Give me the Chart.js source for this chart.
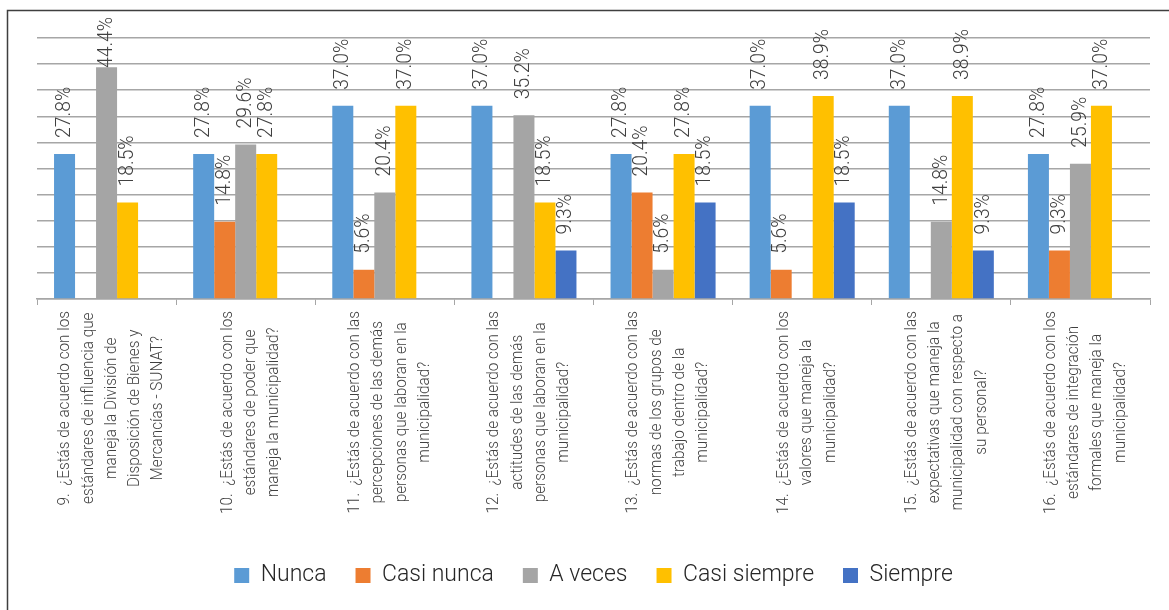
<!DOCTYPE html>
<html>
<head>
<meta charset="utf-8">
<script src="https://cdn.jsdelivr.net/npm/chart.js@4.4.1/dist/chart.umd.min.js"></script>
<style>
  html, body { margin: 0; padding: 0; background: #ffffff; overflow: hidden; }
  #wrap { position: relative; width: 1169px; height: 610px; }
  canvas { display: block; }
</style>
</head>
<body>
<div id="wrap"><canvas id="chart" width="1169" height="610"></canvas></div>
<script>
// Survey questions 9–16, each split into the lines shown under the axis
const categoryLines = [
  ["9.  ¿Estás de acuerdo con los", "estándares de influencia que", "maneja la División de", "Disposición de Bienes y", "Mercancías - SUNAT?"],
  ["10.  ¿Estás de acuerdo con los", "estándares de poder que", "maneja la municipalidad?"],
  ["11.  ¿Estás de acuerdo con las", "percepciones de las demás", "personas que laboran en la", "municipalidad?"],
  ["12.  ¿Estás de acuerdo con las", "actitudes de las demás", "personas que laboran en la", "municipalidad?"],
  ["13.  ¿Estás de acuerdo con las", "normas de los grupos de", "trabajo dentro de la", "municipalidad?"],
  ["14.  ¿Estás de acuerdo con los", "valores que maneja la", "municipalidad?"],
  ["15.  ¿Estás de acuerdo con las", "expectativas que maneja la", "municipalidad con respecto a", "su personal?"],
  ["16.  ¿Estás de acuerdo con los", "estándares de integración", "formales que maneja la", "municipalidad?"]
];

// Percentage of answers per option (null = no answers)
const nunca       = [27.8, 27.8, 37.0, 37.0, 27.8, 37.0, 37.0, 27.8];
const casiNunca   = [null, 14.8, 5.6, null, 20.4, 5.6, null, 9.3];
const aVeces      = [44.4, 29.6, 20.4, 35.2, 5.6, null, 14.8, 25.9];
const casiSiempre = [18.5, 27.8, 37.0, 18.5, 27.8, 38.9, 38.9, 37.0];
const siempre     = [null, null, null, 9.3, 18.5, 18.5, 9.3, null];

const seriesNames = ["Nunca", "Casi nunca", "A veces", "Casi siempre", "Siempre"];
const yTicks = [0, 5, 10, 15, 20, 25, 30, 35, 40, 45, 50];

const FONT = "Roboto, 'Open Sans', 'Liberation Sans', sans-serif";
const GRID = '#a6a6a6';

// Outer frame of the chart
const framePlugin = {
  id: 'frame',
  afterDraw(chart) {
    const ctx = chart.ctx;
    ctx.save();
    ctx.strokeStyle = '#3f3f3f';
    ctx.lineWidth = 1.5;
    ctx.strokeRect(7.5, 10.5, chart.width + 20, chart.height + 20);
    ctx.restore();
  }
};

// Vertical percentage labels above each bar (slightly narrowed glyphs)
const barValueLabels = {
  id: 'barValueLabels',
  afterDatasetsDraw(chart) {
    const ctx = chart.ctx;
    const squeeze = 0.92;
    ctx.save();
    ctx.font = '300 21px ' + FONT;
    ctx.fillStyle = '#404040';
    ctx.textAlign = 'left';
    ctx.textBaseline = 'middle';
    chart.data.datasets.forEach((ds, i) => {
      const meta = chart.getDatasetMeta(i);
      meta.data.forEach((bar, j) => {
        const v = ds.data[j];
        if (v == null) return;
        const text = v.toFixed(1) + '%';
        const w = ctx.measureText(text).width * squeeze;
        const start = Math.max(bar.y - 16, 17 + w);
        ctx.save();
        ctx.translate(bar.x, start);
        ctx.rotate(-Math.PI / 2);
        ctx.scale(squeeze, 1);
        ctx.fillText(text, 0, 0);
        ctx.restore();
      });
    });
    ctx.restore();
  }
};

// Multi-line, centred, rotated category labels under the x axis
const categoryLabels = {
  id: 'categoryLabels',
  afterDraw(chart) {
    const ctx = chart.ctx;
    const xs = chart.scales.x;
    const lineStep = 23.3;
    const squeeze = 0.9;
    ctx.save();
    ctx.font = '300 17px ' + FONT;
    ctx.fillStyle = '#404040';
    ctx.textAlign = 'center';
    ctx.textBaseline = 'middle';
    categoryLines.forEach((lines, i) => {
      const cx = xs.getPixelForValue(i) + 5;
      const maxW = Math.max(...lines.map(l => ctx.measureText(l).width)) * squeeze;
      const cy = xs.top + 12 + maxW / 2;
      const n = lines.length;
      lines.forEach((line, k) => {
        ctx.save();
        ctx.translate(cx + (k - (n - 1) / 2) * lineStep, cy);
        ctx.rotate(-Math.PI / 2);
        ctx.scale(squeeze, 1);
        ctx.fillText(line, 0, 0);
        ctx.restore();
      });
    });
    ctx.restore();
  }
};

const colors = ['#5b9bd5', '#ed7d31', '#a5a5a5', '#ffc000', '#4472c4'];
const values = [nunca, casiNunca, aVeces, casiSiempre, siempre];

new Chart(document.getElementById('chart'), {
  type: 'bar',
  data: {
    labels: categoryLines.map(l => l.join(' ')),
    datasets: seriesNames.map((name, i) => ({
      label: name,
      data: values[i],
      backgroundColor: colors[i],
      borderWidth: 0,
      categoryPercentage: 0.755,
      barPercentage: 1.0
    }))
  },
  options: {
    responsive: false,
    animation: false,
    devicePixelRatio: 1,
    layout: { padding: { left: 37, right: 19, top: 38, bottom: 13 } },
    scales: {
      x: {
        ticks: { display: false },
        grid: { display: true, drawOnChartArea: false, drawTicks: true, tickLength: 6, color: GRID, offset: true },
        border: { display: true, color: GRID, width: 1.5 },
        afterFit(s) { s.height = 236; }
      },
      y: {
        min: yTicks[0],
        max: yTicks[yTicks.length - 1],
        afterBuildTicks(s) { s.ticks = yTicks.map(v => ({ value: v })); },
        ticks: { display: false },
        grid: { color: GRID, lineWidth: 1.5, drawTicks: false },
        border: { display: false },
        afterFit(s) { s.width = 0; }
      }
    },
    plugins: {
      legend: {
        position: 'bottom',
        labels: {
          boxWidth: 15,
          boxHeight: 15,
          padding: 29,
          color: '#262626',
          font: { family: FONT, size: 23, weight: '300' }
        }
      },
      tooltip: { enabled: false }
    }
  },
  plugins: [framePlugin, barValueLabels, categoryLabels]
});
</script>
</body>
</html>
